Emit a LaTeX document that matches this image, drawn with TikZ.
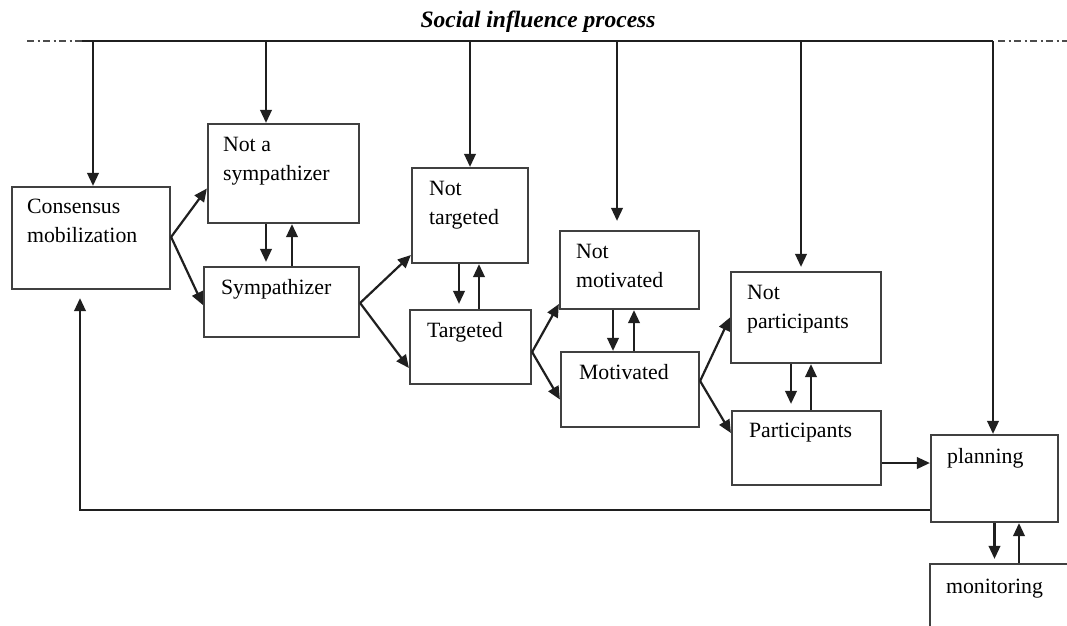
\documentclass[tikz,border=0pt]{standalone}
\usepackage{fontspec}
\setmainfont{Liberation Serif}
\usetikzlibrary{arrows.meta}
% two stacked lines whose baseline is the first line
\newcommand\twoln[2]{\vtop{\hbox{#1}\hbox{#2}}}
\begin{document}
\begin{tikzpicture}[x=1pt,y=-1pt,
  box/.style={draw=black!75, line width=2.2pt, rectangle, inner sep=0pt},
  lbl/.style={anchor=base west, inner sep=0pt, font=\fontsize{21.8}{29}\selectfont},
  arr/.style={-{Triangle[length=13pt,width=11.5pt]}, line width=2.2pt, draw=black!88},
  ln/.style={line width=2.2pt, draw=black!88},
  dashdot/.style={line width=1.6pt, draw=black!70, dash pattern=on 7pt off 3.5pt on 2pt off 3.5pt}]
\useasboundingbox (0,0) rectangle (1067,625);
\clip (0,0) rectangle (1067,625);

% title
\node[anchor=base, inner sep=0pt, font=\fontsize{23.5}{27}\selectfont\bfseries\itshape]
  (title) at (538,27) {Social influence process};

% boxes
\node[box, minimum width=158pt, minimum height=102pt] (cons) at (91,238) {};
\node[box, minimum width=151pt, minimum height=99pt]  (nsym) at (283.5,173.5) {};
\node[box, minimum width=155pt, minimum height=70pt]  (sym)  at (281.5,302) {};
\node[box, minimum width=116pt, minimum height=95pt]  (ntar) at (470,215.5) {};
\node[box, minimum width=121pt, minimum height=74pt]  (tar)  at (470.5,347) {};
\node[box, minimum width=139pt, minimum height=78pt]  (nmot) at (629.5,270) {};
\node[box, minimum width=138pt, minimum height=75pt]  (mot)  at (630,389.5) {};
\node[box, minimum width=150pt, minimum height=91pt]  (npar) at (806,317.5) {};
\node[box, minimum width=149pt, minimum height=74pt]  (par)  at (806.5,448) {};
\node[box, minimum width=127pt, minimum height=87pt]  (plan) at (994.5,478.5) {};
\node[box, minimum width=150pt, minimum height=96pt]  (mon)  at (1005,612) {};

% box texts
\node[lbl] (tcons) at ([xshift=16pt,yshift=-28pt]cons.north west) {\twoln{Consensus}{mobilization}};
\node[lbl] (tnsym) at ([xshift=16pt,yshift=-29pt]nsym.north west) {\twoln{Not a}{sympathizer}};
\node[lbl] (tsym)  at ([xshift=18pt,yshift=-29pt]sym.north west)  {Sympathizer};
\node[lbl] (tntar) at ([xshift=18pt,yshift=-29pt]ntar.north west) {\twoln{Not}{targeted}};
\node[lbl] (ttar)  at ([xshift=18pt,yshift=-29pt]tar.north west)  {Targeted};
\node[lbl] (tnmot) at ([xshift=17pt,yshift=-29pt]nmot.north west) {\twoln{Not}{motivated}};
\node[lbl] (tmot)  at ([xshift=19pt,yshift=-29pt]mot.north west)  {Motivated};
\node[lbl] (tnpar) at ([xshift=17pt,yshift=-29pt]npar.north west) {\twoln{Not}{participants}};
\node[lbl] (tpar)  at ([xshift=18pt,yshift=-28pt]par.north west)  {Participants};
\node[lbl] (tplan) at ([xshift=17pt,yshift=-30pt]plan.north west) {planning};
\node[lbl] (tmon)  at ([xshift=17pt,yshift=-31pt]mon.north west)  {monitoring};

% social influence bus along the top
\coordinate (d1) at (93,41);
\coordinate (d2) at (266,41);
\coordinate (d3) at (470,41);
\coordinate (d4) at (617,41);
\coordinate (d5) at (801,41);
\coordinate (d6) at (993,41);
\coordinate (el) at (27,41);
\coordinate (bl) at (82,41);
\coordinate (er) at (1067,41);
\draw[dashdot] (el) -- (bl);
\draw[ln] (bl) -- (d6);
\draw[dashdot] ([xshift=5pt]d6) -- (er);

\draw[arr] (d1) -- (d1 |- cons.north);
\draw[arr] (d2) -- (d2 |- nsym.north);
\draw[arr] (d3) -- (d3 |- ntar.north);
\draw[arr, shorten >=9pt] (d4) -- (d4 |- nmot.north);
\draw[arr, shorten >=4pt] (d5) -- (d5 |- npar.north);
\draw[arr] (d6) -- (d6 |- plan.north);

% forks
\draw[arr] ([yshift=1pt]cons.east) -- ([yshift=-15pt]nsym.west);
\draw[arr] ([yshift=1pt]cons.east) -- ([yshift=-3pt]sym.west);
\draw[arr] ([yshift=-1pt]sym.east) -- ([yshift=-39.5pt]ntar.west);
\draw[arr] ([yshift=-1pt]sym.east) -- ([yshift=-21pt]tar.west);
\draw[arr] ([yshift=-5pt]tar.east) -- ([yshift=-34pt]nmot.west);
\draw[arr] ([yshift=-5pt]tar.east) -- ([yshift=-10pt]mot.west);
\draw[arr] ([yshift=8.5pt]mot.east) -- (npar.west);
\draw[arr] ([yshift=8.5pt]mot.east) -- ([yshift=15pt]par.west);
\draw[arr] ([yshift=-15pt]par.east) -- ([yshift=-15pt]par.east -| plan.west);

% feedback to consensus mobilization
\draw[arr, shorten >=8pt] ([yshift=-31.5pt]plan.west) -| ([xshift=-11pt]cons.south);

% up/down pairs
\draw[arr, shorten >=4pt] ([xshift=-17.5pt]nsym.south) -- ([xshift=-17.5pt]nsym.south |- sym.north);
\draw[arr] ([xshift=8.5pt]nsym.south |- sym.north) -- ([xshift=8.5pt]nsym.south);
\draw[arr, shorten >=5pt] ([xshift=-11pt]ntar.south) -- ([xshift=-11pt]ntar.south |- tar.north);
\draw[arr] ([xshift=9pt]ntar.south |- tar.north) -- ([xshift=9pt]ntar.south);
\draw[arr] ([xshift=-16.5pt]nmot.south) -- ([xshift=-16.5pt]nmot.south |- mot.north);
\draw[arr] ([xshift=4.5pt]nmot.south |- mot.north) -- ([xshift=4.5pt]nmot.south);
\draw[arr, shorten >=6pt] ([xshift=-15pt]npar.south) -- ([xshift=-15pt]npar.south |- par.north);
\draw[arr] ([xshift=5pt]npar.south |- par.north) -- ([xshift=5pt]npar.south);
\draw[arr, shorten >=4pt] (plan.south) -- (plan.south |- mon.north);
\draw[arr] ([xshift=24.5pt]plan.south |- mon.north) -- ([xshift=24.5pt]plan.south);
\end{tikzpicture}
\end{document}
